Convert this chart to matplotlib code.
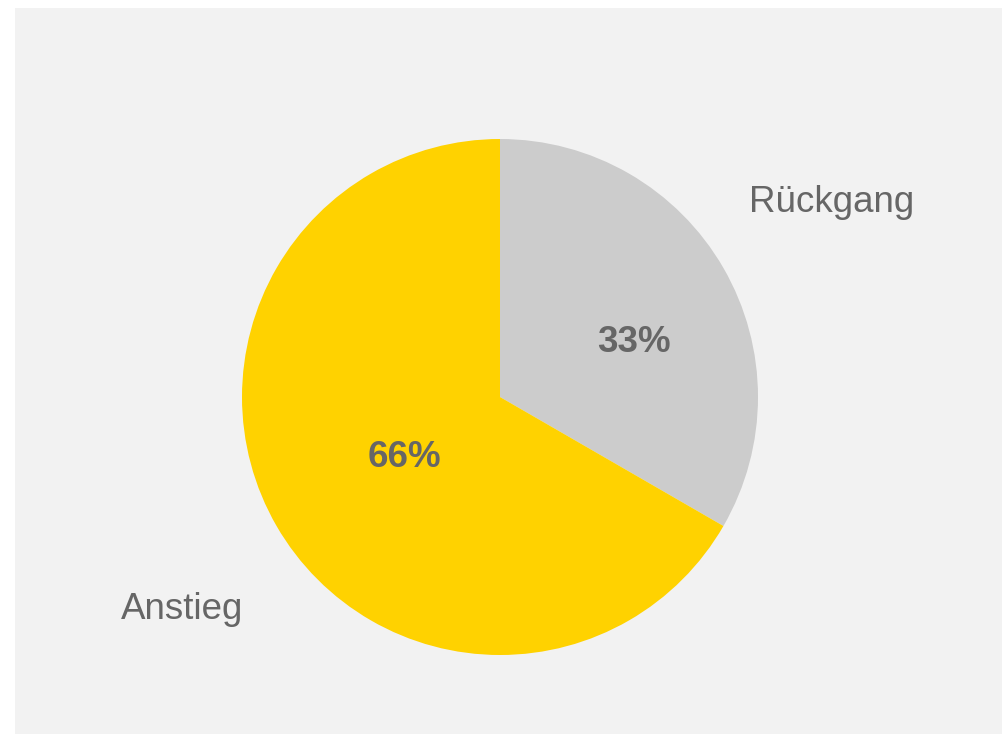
import matplotlib
matplotlib.use("Agg")
import matplotlib.pyplot as plt
from matplotlib.patches import Rectangle
import numpy as np

categories = ["Rückgang", "Anstieg"]
values = [33, 66]
pct_labels = ["33%", "66%"]
colors = ["#CCCCCC", "#FFD200"]

plt.rcParams['font.family'] = ['Liberation Sans', 'DejaVu Sans']

W, H = 1002, 734
fig = plt.figure(figsize=(W / 100, H / 100), dpi=100, facecolor="white")
fig.patches.append(Rectangle((15 / W, 0), 1 - 15 / W, 1 - 8 / H,
                             transform=fig.transFigure, facecolor="#F2F2F2",
                             edgecolor="none", zorder=-10))

cx, cy, r = 500, 397, 258
ax = fig.add_axes([(cx - r) / W, (H - cy - r) / H, 2 * r / W, 2 * r / H])
ax.set_facecolor("none")
ax.pie(values, colors=colors, startangle=90, counterclock=False, radius=1,
       wedgeprops=dict(linewidth=0))
ax.set_xlim(-1, 1)
ax.set_ylim(-1, 1)
ax.set_aspect("equal")
ax.axis("off")

# percentage labels
pct_pos = [(0.52, 0.212), (-0.37, -0.233)]
for (x, y), t in zip(pct_pos, pct_labels):
    ax.text(x, y, t, ha="center", va="center", fontsize=26.5, fontweight="bold",
            color="#666666")

# category labels
cat_pos = [(1.287, 0.752), (-1.233, -0.822)]
for (x, y), t in zip(cat_pos, categories):
    ax.text(x, y, t, ha="center", va="center", fontsize=26.5, color="#666666")

fig.savefig("out.png", dpi=100, facecolor="white")
